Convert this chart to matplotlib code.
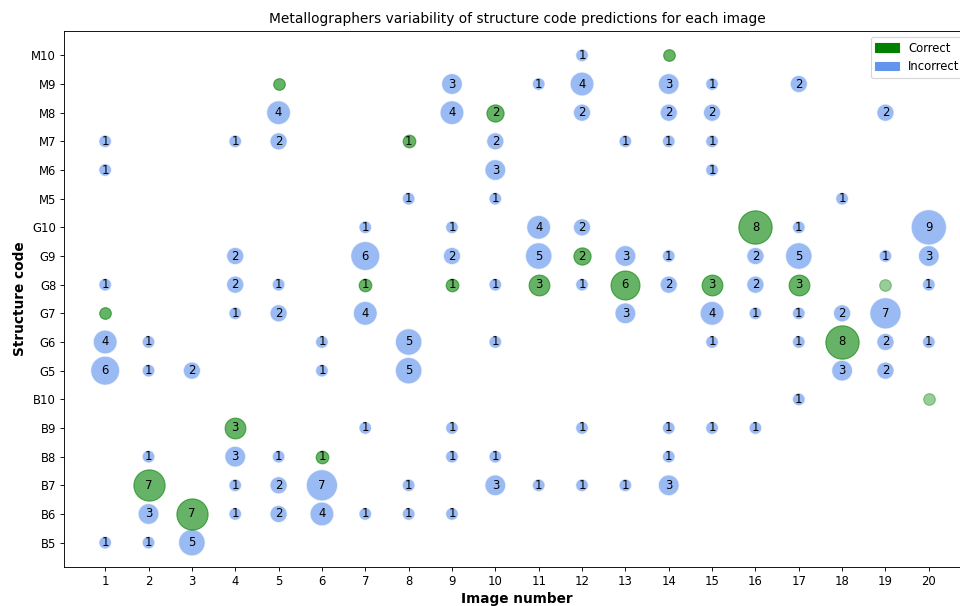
import matplotlib.pyplot as plt
import matplotlib.patches as mpatches

CODES = ["B5", "B6", "B7", "B8", "B9", "B10", "G5", "G6", "G7", "G8",
         "G9", "G10", "M5", "M6", "M7", "M8", "M9", "M10"]
IMAGES = list(range(1, 21))

# wrong predictions: image, code, number of metallographers
wrong_img = [1, 1, 1, 1, 1, 1,
             2, 2, 2, 2, 2,
             3, 3,
             4, 4, 4, 4, 4, 4, 4,
             5, 5, 5, 5, 5, 5, 5,
             6, 6, 6, 6,
             7, 7, 7, 7, 7,
             8, 8, 8, 8, 8,
             9, 9, 9, 9, 9, 9, 9,
             10, 10, 10, 10, 10, 10, 10,
             11, 11, 11, 11,
             12, 12, 12, 12, 12, 12, 12,
             13, 13, 13, 13,
             14, 14, 14, 14, 14, 14, 14, 14,
             15, 15, 15, 15, 15, 15, 15,
             16, 16, 16, 16,
             17, 17, 17, 17, 17, 17,
             18, 18, 18,
             19, 19, 19, 19, 19,
             20, 20, 20, 20]
wrong_code = ["M7", "M6", "G8", "G6", "G5", "B5",
              "G6", "G5", "B8", "B6", "B5",
              "G5", "B5",
              "M7", "G9", "G8", "G7", "B8", "B7", "B6",
              "M8", "M7", "G8", "G7", "B8", "B7", "B6",
              "G6", "G5", "B7", "B6",
              "G10", "G9", "G7", "B9", "B6",
              "M5", "G6", "G5", "B7", "B6",
              "M9", "M8", "G10", "G9", "B9", "B8", "B6",
              "M7", "M6", "M5", "G8", "G6", "B8", "B7",
              "M9", "G10", "G9", "B7",
              "M10", "M9", "M8", "G10", "G8", "B9", "B7",
              "M7", "G9", "G7", "B7",
              "M9", "M8", "M7", "G9", "G8", "B9", "B8", "B7",
              "M9", "M8", "M7", "M6", "G7", "G6", "B9",
              "G9", "G8", "G7", "B9",
              "M9", "G10", "G9", "G7", "G6", "B10",
              "M5", "G7", "G5",
              "M8", "G9", "G7", "G6", "G5",
              "G10", "G9", "G8", "G6"]
wrong_n = [1, 1, 1, 4, 6, 1,
           1, 1, 1, 3, 1,
           2, 5,
           1, 2, 2, 1, 3, 1, 1,
           4, 2, 1, 2, 1, 2, 2,
           1, 1, 7, 4,
           1, 6, 4, 1, 1,
           1, 5, 5, 1, 1,
           3, 4, 1, 2, 1, 1, 1,
           2, 3, 1, 1, 1, 1, 3,
           1, 4, 5, 1,
           1, 4, 2, 2, 1, 1, 1,
           1, 3, 3, 1,
           3, 2, 1, 1, 2, 1, 1, 3,
           1, 2, 1, 1, 4, 1, 1,
           2, 2, 1, 1,
           2, 1, 5, 1, 1, 1,
           1, 2, 3,
           2, 1, 7, 2, 2,
           9, 3, 1, 1]

# correct structure code per image and how many picked it
correct_code = ["G7", "B7", "B6", "B9", "M9", "B8", "G8", "M7", "G8", "M8",
                "G8", "G9", "G8", "M10", "G8", "G10", "G8", "G6", "G8", "B10"]
correct_n = [0, 7, 7, 3, 0, 1, 1, 1, 1, 2, 3, 2, 6, 0, 3, 8, 3, 8, 0, 0]


def size(n):
    return 110 * n + 20 if n > 0 else 110


fig = plt.figure(figsize=(12, 7.575), dpi=80)
ax = fig.add_axes([64 / 960, 39 / 606, 906 / 960, 536 / 606])

ypos = {c: i for i, c in enumerate(CODES)}

wy = [ypos[c] for c in wrong_code]
ax.scatter(wrong_img, wy, s=[size(n) for n in wrong_n], color="cornflowerblue",
           alpha=0.65, edgecolors="white", linewidths=1, zorder=2)
for x, y, n in zip(wrong_img, wy, wrong_n):
    ax.text(x, y, str(n), ha="center", va="center", fontsize=10.5, zorder=4)

cy = [ypos[c] for c in correct_code]
for x, y, n in zip(IMAGES, cy, correct_n):
    a = 0.6
    if n == 0 and x >= 19:
        a = 0.4
    ax.scatter(x, y, s=size(n), color="green", alpha=a, zorder=3)
    if n > 0:
        ax.text(x, y, str(n), ha="center", va="center", fontsize=10.5, zorder=4)

ax.set_xticks(IMAGES)
ax.set_yticks(range(len(CODES)))
ax.set_yticklabels(CODES)
ax.set_xlim(0.05, 20.95)
ax.set_ylim(-0.85, 17.85)
ax.tick_params(labelsize=10.5)

ax.set_title("Metallographers variability of structure code predictions for each image",
             fontsize=12.4, pad=7)
ax.set_xlabel("Image number", fontsize=12.3, fontweight="bold")
ax.set_ylabel("Structure code", fontsize=12.3, fontweight="bold")

handles = [mpatches.Patch(color="green", label="Correct"),
           mpatches.Patch(color="cornflowerblue", label="Incorrect")]
ax.legend(handles=handles, loc="upper right", fontsize=10.5)

fig.savefig("out.png", dpi=80)
